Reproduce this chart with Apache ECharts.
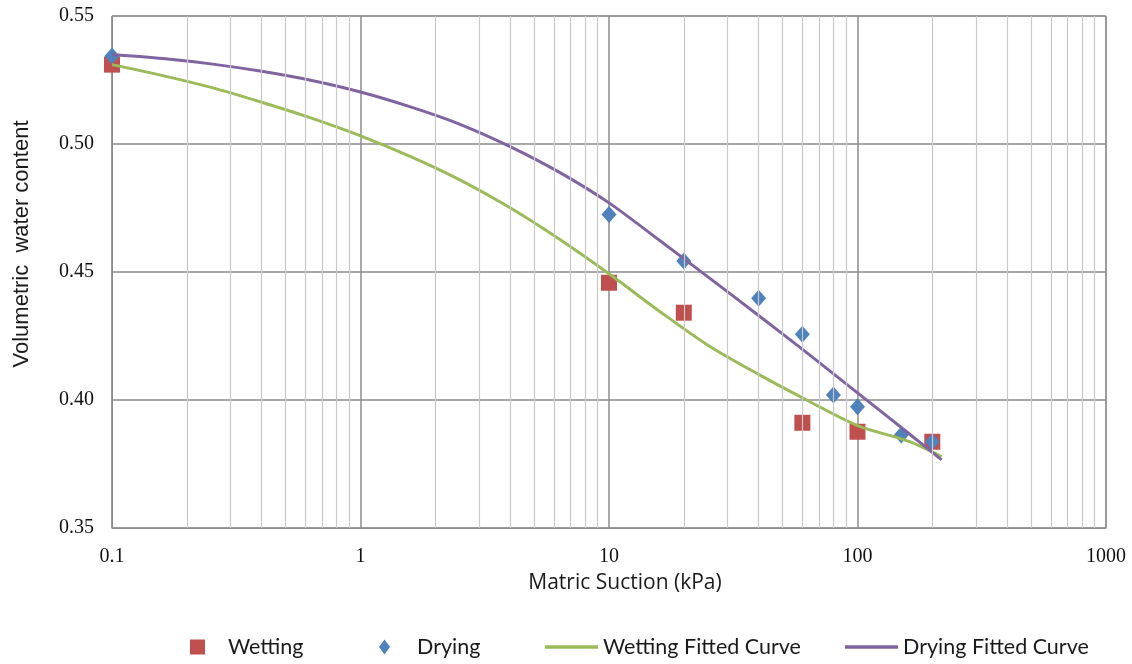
<!DOCTYPE html>
<html>
<head>
<meta charset="utf-8">
<title>Soil water characteristic curve</title>
<script src="https://cdn.jsdelivr.net/npm/echarts@6/dist/echarts.min.js"></script>
<style>
  html, body { margin: 0; padding: 0; background: #fff; }
  #main { width: 1132px; height: 664px; }
</style>
</head>
<body>
<div id="main"></div>
<script>
// measured points (suction in kPa, volumetric water content)
var wettingX = [0.1, 10, 20, 60, 100, 200];
var wettingY = [0.531, 0.4458, 0.4341, 0.3911, 0.3876, 0.3837];

var dryingX = [0.1, 10, 20, 40, 60, 80, 100, 150, 200];
var dryingY = [0.5344, 0.4725, 0.4543, 0.4397, 0.4257, 0.402, 0.3974, 0.3863, 0.3837];

// fitted curves
var fitX = [0.1, 0.16, 0.25, 0.4, 0.63, 1, 1.6, 2.5, 4, 6.3, 10, 16, 25, 40, 63, 100, 160, 218];
var wetFitY = [0.531, 0.5267, 0.5221, 0.5163, 0.5102, 0.5032, 0.495, 0.4861, 0.4751, 0.4629, 0.4493, 0.4346, 0.4214, 0.41, 0.3998, 0.39, 0.3839, 0.3779];
var dryFitY = [0.535, 0.5334, 0.5313, 0.5284, 0.5249, 0.5203, 0.5144, 0.5078, 0.499, 0.489, 0.477, 0.4623, 0.4481, 0.433, 0.4182, 0.4028, 0.3871, 0.3766];

// minor log grid lines (2..9 in every decade)
var minorX = [0.2, 0.3, 0.4, 0.5, 0.6, 0.7, 0.8, 0.9,
  2, 3, 4, 5, 6, 7, 8, 9,
  20, 30, 40, 50, 60, 70, 80, 90,
  200, 300, 400, 500, 600, 700, 800, 900];

function pairs(xs, ys) {
  return xs.map(function (x, i) { return [x, ys[i]]; });
}

var legendFont = { fontFamily: "Lato", fontSize: 21.5, color: "#1a1a1a" };
var lineIcon = "path://M0,0H53V3.5H0Z";

function oneLegend(name, left, w, h, icon, textPad) {
  return {
    top: 636,
    left: left,
    padding: 0,
    itemWidth: w,
    itemHeight: h,
    symbolKeepAspect: true,
    textStyle: Object.assign({ padding: [0, 0, 0, textPad] }, legendFont),
    data: [{ name: name, icon: icon }]
  };
}

var chart = echarts.init(document.getElementById("main"));

chart.setOption({
  animation: false,
  grid: { left: 112, right: 26, top: 16, bottom: 136, show: true, borderColor: "#8c8c8c", borderWidth: 1 },
  legend: [
    oneLegend("Wetting", 190, 15, 15, "rect", 18),
    oneLegend("Drying", 379, 11, 15, "diamond", 22),
    oneLegend("Wetting Fitted Curve", 545, 53, 14, lineIcon, 0),
    oneLegend("Drying Fitted Curve", 845, 53, 14, lineIcon, 0)
  ],
  xAxis: {
    type: "log",
    logBase: 10,
    min: 0.1,
    max: 1000,
    name: "Matric Suction (kPa)",
    nameLocation: "middle",
    nameGap: 45,
    nameTextStyle: { fontFamily: "Open Sans", fontSize: 21, color: "#1a1a1a", padding: [0, 0, 0, 32] },
    axisLine: { show: true, lineStyle: { color: "#8c8c8c" } },
    axisTick: { show: false },
    axisLabel: {
      margin: 19,
      fontFamily: "Liberation Serif",
      fontSize: 20,
      color: "#111",
      formatter: function (v) { return String(+v.toPrecision(3)); }
    },
    splitLine: { show: true, lineStyle: { color: "#8c8c8c", width: 1.5 } }
  },
  yAxis: {
    type: "value",
    min: 0.35,
    max: 0.55,
    interval: 0.05,
    name: "Volumetric  water content",
    nameLocation: "middle",
    nameRotate: 90,
    nameGap: 79,
    nameTextStyle: { fontFamily: "Liberation Sans", fontSize: 22, color: "#1a1a1a", padding: [0, 0, 0, 56] },
    axisLine: { show: true, lineStyle: { color: "#8c8c8c" } },
    axisTick: { show: false },
    axisLabel: {
      margin: 18,
      fontFamily: "Liberation Serif",
      fontSize: 20,
      color: "#111",
      formatter: function (v) { return v.toFixed(2); }
    },
    splitLine: { show: true, lineStyle: { color: "#8c8c8c", width: 1.5 } }
  },
  series: [
    {
      name: "minor",
      type: "line",
      data: [],
      silent: true,
      z: 1,
      markLine: {
        silent: true,
        symbol: ["none", "none"],
        label: { show: false },
        lineStyle: { color: "#c8c8c8", type: "solid", width: 1.2 },
        data: minorX.map(function (x) { return { xAxis: x }; })
      }
    },
    {
      name: "Wetting",
      type: "scatter",
      symbol: "rect",
      symbolSize: 16,
      itemStyle: { color: "#C0504D", opacity: 1 },
      data: pairs(wettingX, wettingY)
    },
    {
      name: "Drying",
      type: "scatter",
      symbol: "diamond",
      symbolSize: [15, 17],
      itemStyle: { color: "#4F81BD", opacity: 1 },
      data: pairs(dryingX, dryingY)
    },
    {
      name: "Wetting Fitted Curve",
      type: "line",
      smooth: 0.3,
      showSymbol: false,
      symbol: "none",
      lineStyle: { color: "#9BBB59", width: 3 },
      itemStyle: { color: "#9BBB59" },
      data: pairs(fitX, wetFitY)
    },
    {
      name: "Drying Fitted Curve",
      type: "line",
      smooth: 0.3,
      showSymbol: false,
      symbol: "none",
      lineStyle: { color: "#8064A2", width: 3 },
      itemStyle: { color: "#8064A2" },
      data: pairs(fitX, dryFitY)
    }
  ]
});
</script>
</body>
</html>
